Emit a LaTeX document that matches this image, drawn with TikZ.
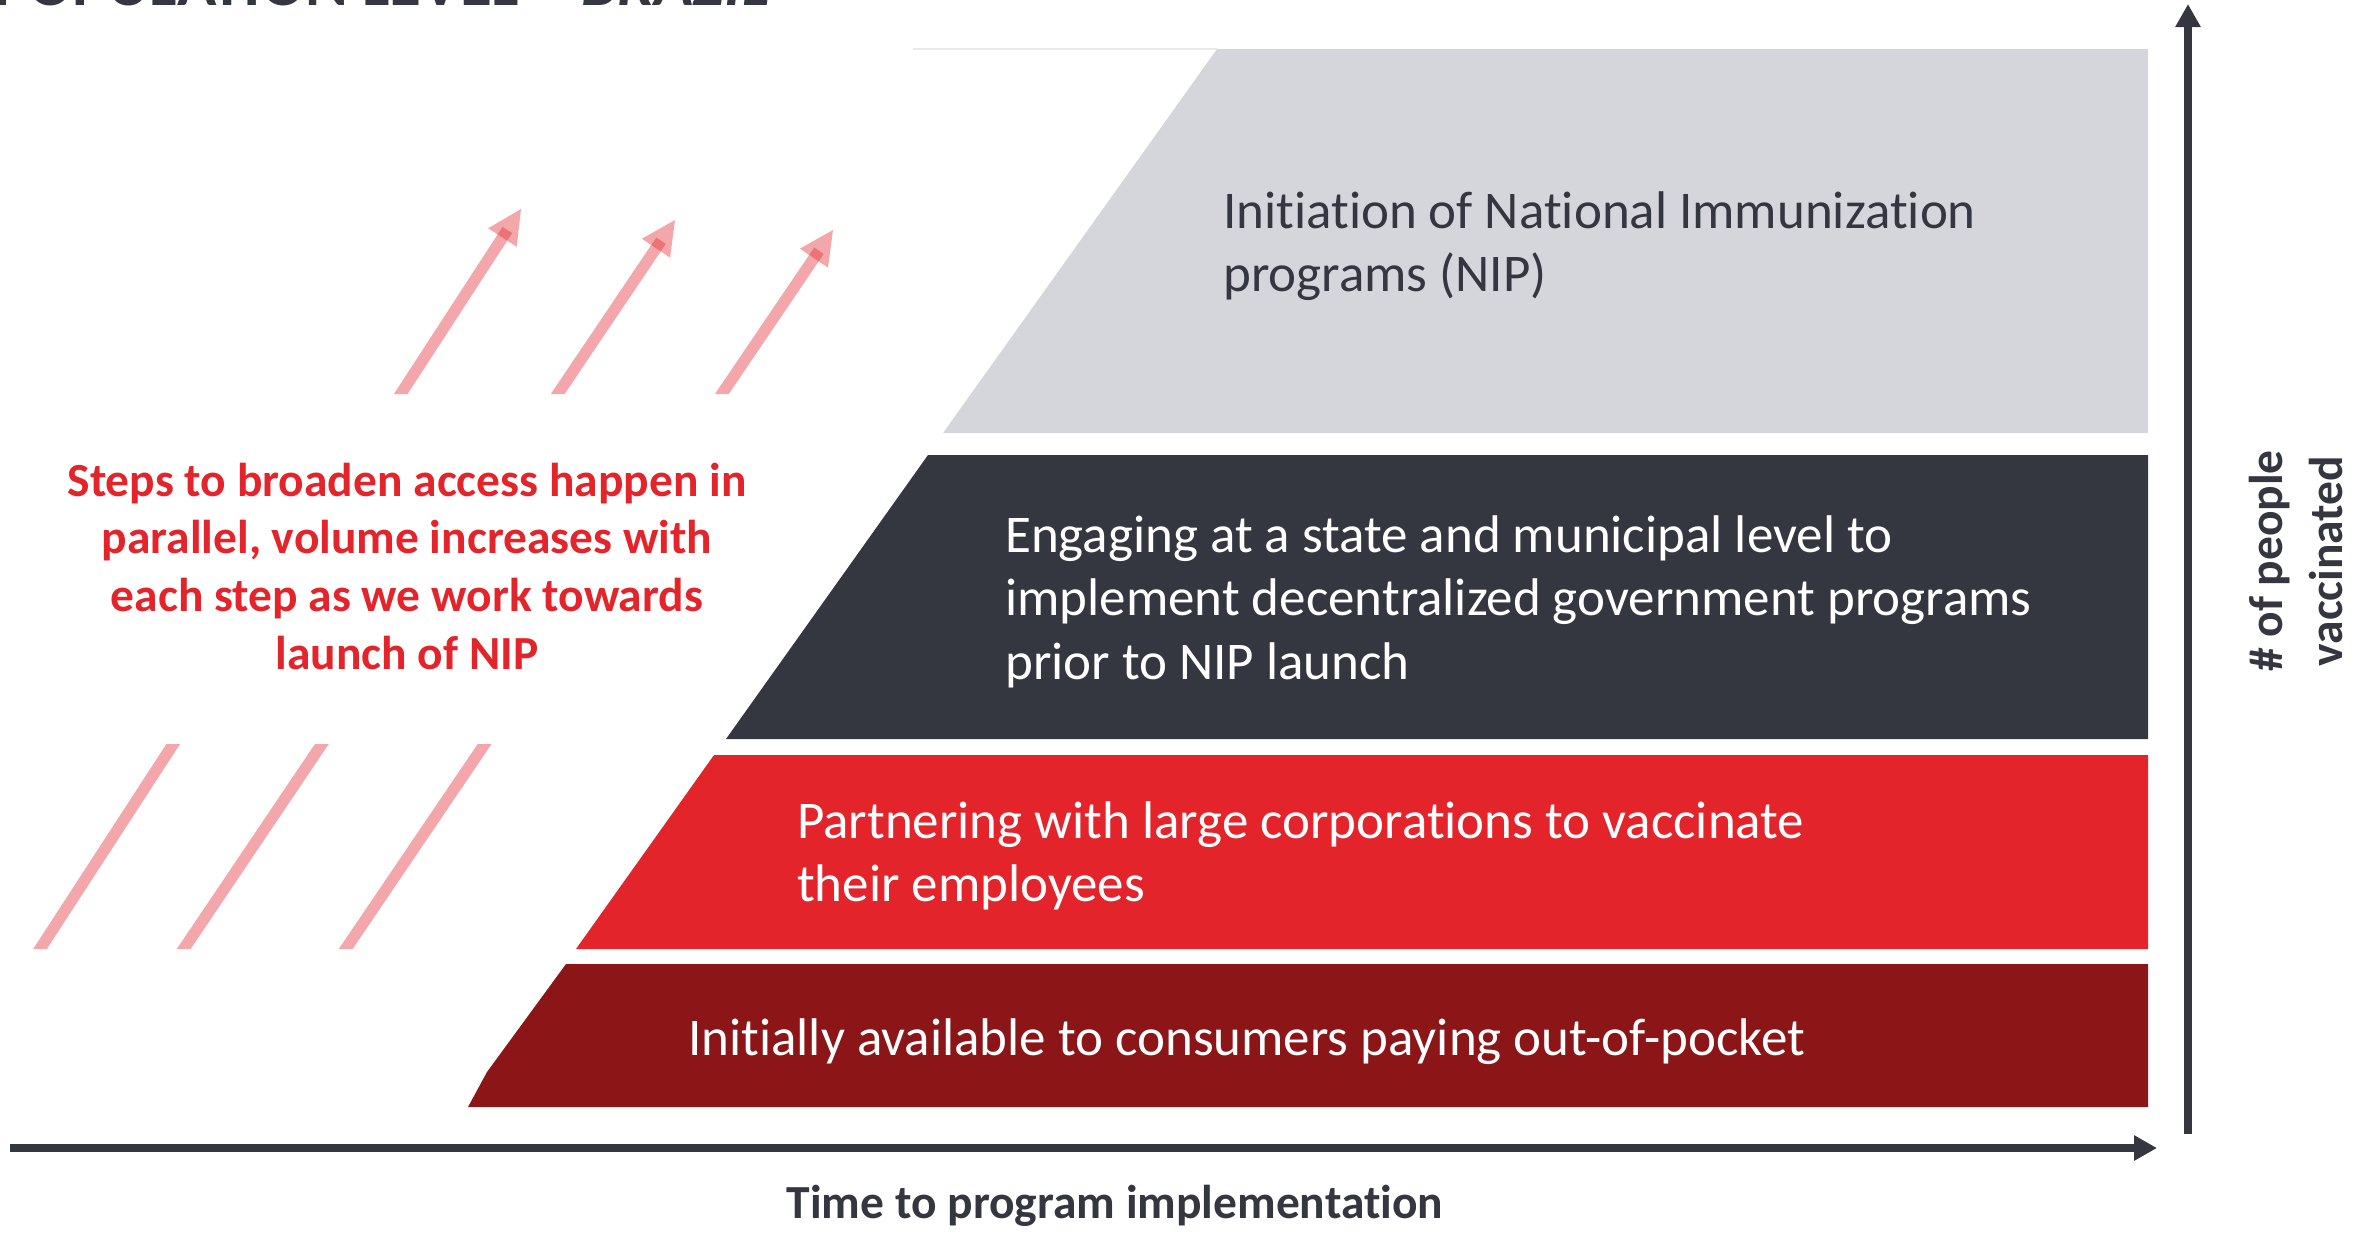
\documentclass[tikz,border=0pt]{standalone}
\usepackage{fontspec}
\setmainfont{Carlito}[Ligatures={TeX,NoCommon}]
\usetikzlibrary{arrows.meta,calc}
\definecolor{bandgrey}{RGB}{213,214,219}
\definecolor{banddark}{RGB}{53,55,64}
\definecolor{bandred}{RGB}{227,36,43}
\definecolor{bandmaroon}{RGB}{139,21,23}
\definecolor{faintline}{RGB}{234,234,236}
\begin{document}
\begin{tikzpicture}[x=1pt,y=1pt,
  bandtext/.style={anchor=north west, inner sep=0pt, align=left, font=\fontsize{53}{63.5}\selectfont},
  axisline/.style={line width=8pt, draw=banddark, -{Triangle[length=23pt,width=24pt]}},
  pinkshaft/.style={line width=11.5pt, draw=bandred, draw opacity=0.4},
  pinkhead/.style={fill=bandred, fill opacity=0.4},
  axislabel/.style={font=\fontsize{47.5}{60}\selectfont\bfseries, text=banddark, inner sep=0pt, align=center}]
\useasboundingbox (0,0) rectangle (2369,-1232);
\clip (0,0) rectangle (2369,-1232);

% cut-off title (cut at the top edge, as in the reference)
\node[anchor=base west, inner sep=0pt, text=banddark, font=\fontsize{65}{70}\selectfont\bfseries] (title) at (-6,-5) {POPULATION LEVEL – \textit{BRAZIL}};

% faint line
\draw[faintline, line width=1.5pt] (913,-49) -- (1217,-49);

% bands
\fill[bandgrey] (1217,-49) -- (2148,-49) -- (2148,-433) -- (943,-433) -- cycle;
\fill[banddark] (928,-455) -- (2148,-455) -- (2148,-739) -- (726,-739) -- cycle;
\fill[bandred] (714,-755) -- (2148,-755) -- (2148,-949) -- (576,-949) -- cycle;
\fill[bandmaroon] (566,-964) -- (2148,-964) -- (2148,-1107) -- (468,-1107) -- (487,-1072) -- cycle;

% band texts
\node[bandtext, text=banddark] (nip) at (1223,-183) {\rule{0pt}{45pt}Initiation of National Immunization\\programs (NIP)};
\node[bandtext, text=white] (state) at (1005,-507) {\rule{0pt}{45pt}Engaging at a state and municipal level to\\implement decentralized government programs\\prior to NIP launch};
\node[bandtext, text=white] (corp) at (797,-793) {\rule{0pt}{45pt}Partnering with large corporations to vaccinate\\their employees};
\node[bandtext, text=white] (oop) at (688,-1010) {\rule{0pt}{45pt}Initially available to consumers paying out-of-pocket};

% pink arrows
\coordinate (a1s) at (40,-949);   \coordinate (a1t) at (521,-209);
\coordinate (a2s) at (183.7,-949); \coordinate (a2t) at (675,-220);
\coordinate (a3s) at (345.7,-949); \coordinate (a3t) at (833,-230);
\begin{scope}
  \clip (-10,-949) rectangle (900,-744) (-10,-394) rectangle (900,10);
  \foreach \s/\t in {a1s/a1t, a2s/a2t, a3s/a3t} {
    \draw[pinkshaft] ($(\s)!-30pt!(\t)$) -- ($(\t)!25pt!(\s)$);
    \coordinate (hb) at ($(\t)!34pt!(\s)$);
    \fill[pinkhead] (\t) -- ($(hb)!17pt!90:(\t)$) -- ($(hb)!17pt!-90:(\t)$) -- cycle;
  }
\end{scope}

% annotation
\node[anchor=north, inner sep=0pt, align=center, text=bandred, font=\fontsize{47.5}{57.7}\selectfont\bfseries] (note) at (407,-454)
  {\rule{0pt}{42pt}Steps to broaden access happen in\\parallel, volume increases with\\each step as we work towards\\launch of NIP};

% axes
\coordinate (xo) at (10,-1148); \coordinate (xe) at (2157,-1148);
\coordinate (yo) at (2188,-1134); \coordinate (ye) at (2188,-4);
\draw[axisline] (xo) -- (xe);
\draw[axisline] (yo) -- (ye);

\node[axislabel, anchor=base] (xlab) at (1115,-1218) {Time to program implementation};
\node[axislabel, rotate=90, anchor=center] (ylab) at (2296,-561) {\# of people\\vaccinated};
\end{tikzpicture}
\end{document}
